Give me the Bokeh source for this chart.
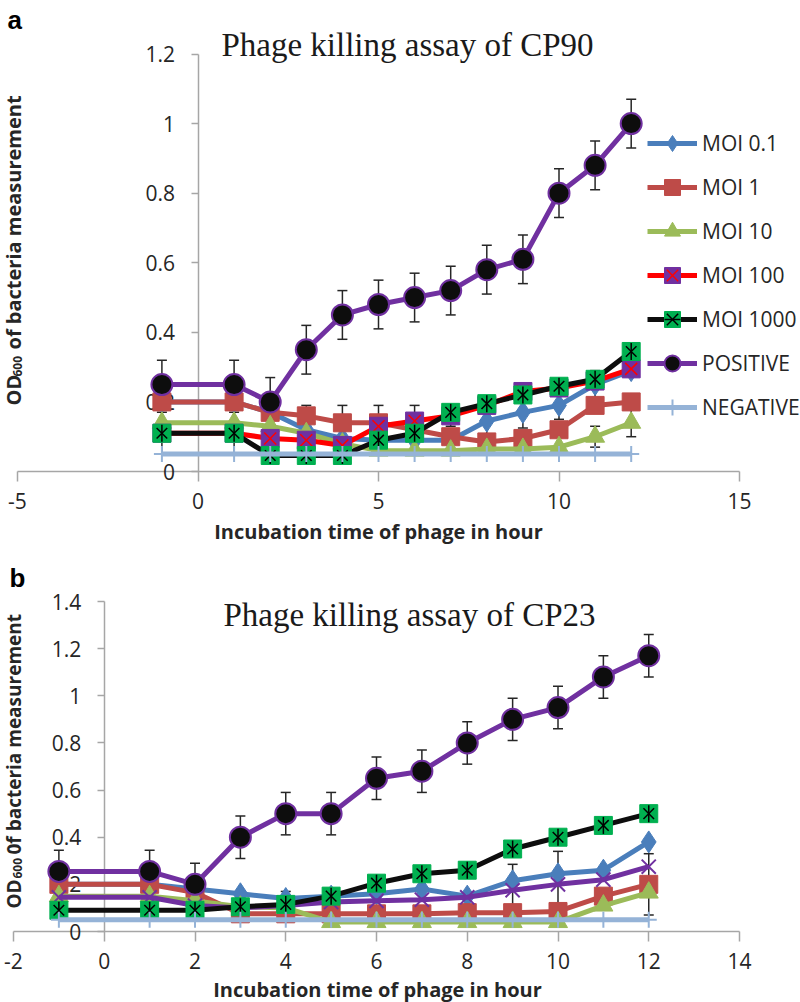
import math

from bokeh.embed import file_html
from bokeh.layouts import column
from bokeh.models import (ColumnDataSource, FixedTicker, Label, Legend, LegendItem,
                          NumeralTickFormatter, TeeHead, Whisker)
from bokeh.plotting import figure
from bokeh.resources import INLINE

# ---------------------------------------------------------------- data
hours = [-1, 1, 2, 3, 4, 5, 6, 7, 8, 9, 10, 11, 12]
series_names = ["MOI 0.1", "MOI 1", "MOI 10", "MOI 100", "MOI 1000", "POSITIVE", "NEGATIVE"]

# CP90 (panel a), OD600
cp90_moi01 = [0.20, 0.20, 0.17, 0.12, 0.095, 0.09, 0.09, 0.09, 0.145, 0.17, 0.19, 0.25, 0.29]
cp90_moi1 = [0.20, 0.20, 0.17, 0.16, 0.14, 0.14, 0.12, 0.10, 0.085, 0.095, 0.12, 0.19, 0.20]
cp90_moi10 = [0.14, 0.14, 0.13, 0.11, 0.08, 0.06, 0.06, 0.06, 0.065, 0.065, 0.07, 0.10, 0.14]
cp90_moi100 = [0.11, 0.11, 0.095, 0.09, 0.075, 0.13, 0.145, 0.16, 0.19, 0.23, 0.24, 0.26, 0.295]
cp90_moi1000 = [0.11, 0.11, 0.046, 0.046, 0.046, 0.09, 0.11, 0.17, 0.195, 0.22, 0.245, 0.265, 0.345]
cp90_positive = [0.25, 0.25, 0.20, 0.35, 0.45, 0.48, 0.50, 0.52, 0.58, 0.61, 0.80, 0.88, 1.00]
cp90_negative = [0.05, 0.05, 0.05, 0.05, 0.05, 0.05, 0.05, 0.05, 0.05, 0.05, 0.05, 0.05, 0.05]

cp90_err_moi01 = [0, 0, 0, 0, 0, 0, 0, 0, 0.04, 0.045, 0.04, 0.04, 0]
cp90_err_moi1 = [0, 0, 0, 0.03, 0.05, 0.05, 0, 0, 0, 0, 0, 0, 0]
cp90_err_moi10 = [0, 0, 0, 0, 0, 0, 0, 0, 0, 0, 0, 0.03, 0.04]
cp90_err_moi100 = [0, 0, 0, 0, 0, 0, 0.045, 0.03, 0, 0, 0, 0, 0]
cp90_err_moi1000 = [0.06, 0.06, 0, 0, 0, 0, 0, 0, 0, 0, 0, 0, 0]
cp90_err_positive = [0.07, 0.07, 0.07, 0.07, 0.07, 0.07, 0.07, 0.07, 0.07, 0.07, 0.07, 0.07, 0.07]
cp90_err_negative = [0, 0, 0, 0, 0, 0, 0, 0, 0, 0, 0, 0, 0]

# CP23 (panel b), OD600
cp23_moi01 = [0.20, 0.20, 0.18, 0.16, 0.14, 0.15, 0.16, 0.18, 0.15, 0.215, 0.245, 0.26, 0.38]
cp23_moi1 = [0.20, 0.20, 0.165, 0.075, 0.075, 0.075, 0.075, 0.075, 0.08, 0.08, 0.085, 0.15, 0.20]
cp23_moi10 = [0.15, 0.15, 0.13, 0.105, 0.10, 0.04, 0.04, 0.04, 0.04, 0.04, 0.04, 0.11, 0.165]
cp23_moi100 = [0.145, 0.145, 0.11, 0.10, 0.11, 0.125, 0.13, 0.135, 0.145, 0.175, 0.20, 0.22, 0.275]
cp23_moi1000 = [0.09, 0.09, 0.09, 0.105, 0.115, 0.15, 0.205, 0.245, 0.26, 0.35, 0.40, 0.45, 0.50]
cp23_positive = [0.255, 0.255, 0.20, 0.40, 0.50, 0.50, 0.65, 0.68, 0.80, 0.90, 0.95, 1.08, 1.17]
cp23_negative = [0.05, 0.05, 0.05, 0.05, 0.05, 0.05, 0.05, 0.05, 0.05, 0.05, 0.05, 0.05, 0.05]

cp23_err_moi01 = [0, 0, 0, 0, 0, 0, 0, 0, 0, 0, 0, 0, 0]
cp23_err_moi1 = [0, 0, 0, 0, 0, 0, 0, 0, 0, 0, 0, 0, 0.13]
cp23_err_moi10 = [0, 0, 0, 0, 0, 0, 0, 0, 0, 0, 0, 0, 0]
cp23_err_moi100 = [0, 0, 0, 0, 0.06, 0, 0, 0, 0, 0.11, 0.14, 0, 0]
cp23_err_moi1000 = [0, 0, 0, 0, 0, 0, 0, 0, 0, 0, 0, 0, 0]
cp23_err_positive = [0.09, 0.09, 0.09, 0.09, 0.09, 0.09, 0.09, 0.09, 0.09, 0.09, 0.09, 0.09, 0.09]
cp23_err_negative = [0, 0, 0, 0, 0, 0, 0, 0, 0, 0, 0, 0, 0]

x_ticks_a = [-5, 0, 5, 10, 15]
y_ticks_a = [0, 0.2, 0.4, 0.6, 0.8, 1.0, 1.2]
x_ticks_b = [-2, 0, 2, 4, 6, 8, 10, 12, 14]
y_ticks_b = [0, 0.2, 0.4, 0.6, 0.8, 1.0, 1.2, 1.4]

# ---------------------------------------------------------------- styles
BLUE, BRICK, OLIVE = "#4A7EBB", "#BE4B48", "#9BBB59"
RED, PURPLE, GREEN = "#FF0000", "#7030A0", "#00B050"
INK, NEG = "#0D0D0D", "#95B3D7"
AXIS_GREY, TEXT = "#A6A6A6", "#262626"
SANS, SERIF = "Open Sans", "Liberation Serif"

# marker stacks: (marker, size, fill, line colour, line width, angle)
style_a = {
    "MOI 0.1": (BLUE, [("diamond", 22, BLUE, BLUE, 1, 0)]),
    "MOI 1": (BRICK, [("square", 18, BRICK, BRICK, 1, 0)]),
    "MOI 10": (OLIVE, [("triangle", 19, OLIVE, OLIVE, 1, 0)]),
    "MOI 100": (RED, [("square", 18, PURPLE, PURPLE, 1, 0), ("x", 17, None, RED, 1.5, 0)]),
    "MOI 1000": (INK, [("square", 18, GREEN, GREEN, 1, 0), ("x", 15, None, "black", 1.5, 0),
                       ("dash", 17, None, "black", 1.5, math.pi / 2)]),
    "POSITIVE": (PURPLE, [("circle", 21, INK, PURPLE, 2, 0)]),
    "NEGATIVE": (NEG, [("cross", 16, None, NEG, 2, 0)]),
}
style_b = dict(style_a)
style_b["MOI 100"] = (PURPLE, [("x", 20, None, PURPLE, 2, 0)])

W = 800
HA, HB = 550, 452


def linear_range(v0, p0, v1, p1, size, flip=False):
    """Range whose values v0, v1 land on pixels p0, p1 of a canvas side of `size` px."""
    scale = (p1 - p0) / (v1 - v0)
    if flip:  # pixels counted from the top
        end = v0 + p0 / (-scale)
        return end - size / (-scale), end
    start = v0 - p0 / scale
    return start, start + size / scale


def panel(height, values, errors, styles, x_ticks, y_ticks, x_px, y_px, with_legend):
    xr = linear_range(x_ticks[0], x_px[0], x_ticks[-1], x_px[1], W)
    yr = linear_range(0, y_px[0], y_ticks[-1], y_px[1], height, flip=True)
    p = figure(width=W, height=height, x_range=xr, y_range=yr, output_backend="svg",
               toolbar_location=None, min_border=0, outline_line_color=None,
               background_fill_color="white", border_fill_color="white")
    p.xgrid.visible = False
    p.ygrid.visible = False

    for ax, ticks in ((p.xaxis[0], x_ticks), (p.yaxis[0], y_ticks)):
        ax.fixed_location = 0
        ax.bounds = (ticks[0], ticks[-1])
        ax.ticker = FixedTicker(ticks=ticks)
        ax.formatter = NumeralTickFormatter(format="0.[0]")
        ax.axis_line_color = AXIS_GREY
        ax.axis_line_width = 1.5
        ax.major_tick_line_color = AXIS_GREY
        ax.major_tick_line_width = 1.5
        ax.major_tick_in = 0
        ax.minor_tick_line_color = None
        ax.major_label_text_font = SANS
        ax.major_label_text_font_size = "21px"
        ax.major_label_text_color = TEXT
        ax.level = "underlay"
    p.xaxis.major_tick_out = 10
    p.xaxis.major_label_standoff = 11
    p.yaxis.major_tick_out = 7
    p.yaxis.major_label_standoff = 16

    items = []
    for name in series_names:
        ys, err = values[name], errors[name]
        line_color, marks = styles[name]
        keep = [i for i, e in enumerate(err) if e > 0]
        if keep:
            wsrc = ColumnDataSource(dict(
                x=[hours[i] for i in keep],
                upper=[ys[i] + err[i] for i in keep],
                lower=[ys[i] - err[i] for i in keep]))
            p.add_layout(Whisker(source=wsrc, base="x", upper="upper", lower="lower",
                                 line_color=TEXT, line_width=1.5,
                                 upper_head=TeeHead(size=10, line_color=TEXT, line_width=1.5),
                                 lower_head=TeeHead(size=10, line_color=TEXT, line_width=1.5)))
        src = ColumnDataSource(dict(x=hours, y=ys))
        rs = [p.line("x", "y", source=src, line_color=line_color, line_width=5,
                     line_join="round")]
        for marker, size, fill, lc, lw, ang in marks:
            rs.append(p.scatter("x", "y", source=src, marker=marker, size=size, angle=ang,
                                fill_color=fill, line_color=lc, line_width=lw))
        items.append(LegendItem(label=name, renderers=rs))

    if with_legend:
        legend = Legend(items=items, location=(647, 123), glyph_width=50, glyph_height=40,
                        label_height=40, spacing=4, padding=0, margin=0,
                        border_line_color=None, background_fill_alpha=0,
                        label_text_font=SANS, label_text_font_size="21px",
                        label_text_color=TEXT, label_standoff=5)
        p.add_layout(legend)
    return p


def label(p, text, x, y_top, size, font=SANS, style="normal", align="left", angle=0, color=TEXT):
    p.add_layout(Label(x=x, y=p.height - y_top, x_units="screen", y_units="screen", text=text,
                       text_font=font, text_font_size=size, text_font_style=style,
                       text_align=align, text_baseline="alphabetic", angle=angle,
                       text_color=color))


vals_a = dict(zip(series_names, [cp90_moi01, cp90_moi1, cp90_moi10, cp90_moi100,
                                 cp90_moi1000, cp90_positive, cp90_negative]))
errs_a = dict(zip(series_names, [cp90_err_moi01, cp90_err_moi1, cp90_err_moi10, cp90_err_moi100,
                                 cp90_err_moi1000, cp90_err_positive, cp90_err_negative]))
vals_b = dict(zip(series_names, [cp23_moi01, cp23_moi1, cp23_moi10, cp23_moi100,
                                 cp23_moi1000, cp23_positive, cp23_negative]))
errs_b = dict(zip(series_names, [cp23_err_moi01, cp23_err_moi1, cp23_err_moi10, cp23_err_moi100,
                                 cp23_err_moi1000, cp23_err_positive, cp23_err_negative]))

pa = panel(HA, vals_a, errs_a, style_a, x_ticks_a, y_ticks_a, (17, 739), (471, 53.5), True)
pb = panel(HB, vals_b, errs_b, style_b, x_ticks_b, y_ticks_b, (13, 739), (381, 51), False)

up = math.pi / 2
# panel a texts
label(pa, "a", 7, 19, "26px", font="Liberation Sans", style="bold", color="black")
label(pa, "Phage killing assay of CP90", 407, 44, "33px", font=SERIF, align="center",
      color="#1A1A1A")
label(pa, "Incubation time of phage in hour", 378, 531, "20px", style="bold", align="center")
label(pa, "OD", 13, 405, "20px", style="bold", angle=up)
label(pa, "600", 17, 376, "12px", style="bold", angle=up)
label(pa, "of bacteria measurement", 13, 349, "20px", style="bold", angle=up)

# panel b texts
label(pb, "b", 9, 27, "26px", font="Liberation Sans", style="bold", color="black")
label(pb, "Phage killing assay of CP23", 409, 64, "33px", font=SERIF, align="center",
      color="#1A1A1A")
label(pb, "Incubation time of phage in hour", 377, 439, "20px", style="bold", align="center")
label(pb, "OD", 13, 358, "19px", style="bold", angle=up)
label(pb, "600", 17, 328, "12px", style="bold", angle=up)
label(pb, "0f bacteria measurement", 13, 304, "19px", style="bold", angle=up)

layout = column(pa, pb, spacing=0)
open("out.html", "w").write(file_html(layout, INLINE))
